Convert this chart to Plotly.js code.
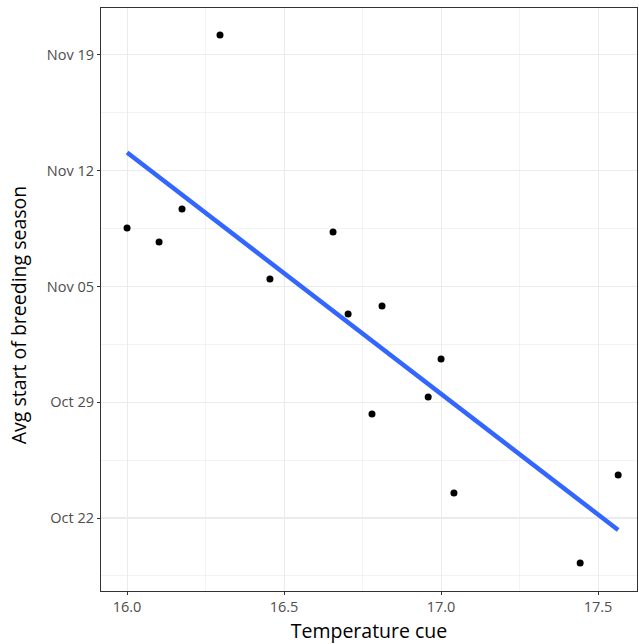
<!DOCTYPE html>
<html><head><meta charset="utf-8">
<script src="https://cdn.plot.ly/plotly-3.0.1.min.js"></script>
<style>html,body{margin:0;padding:0;background:#fff}</style>
</head><body>
<div id="chart" style="width:639px;height:644px"></div>
<script>
// Temperature cue (x) and average start of breeding season, in days after Oct 22 (y)
const tempCue = [16.000, 16.102, 16.175, 16.296, 16.455, 16.656, 16.704, 16.812, 16.780, 17.000, 16.959, 17.041, 17.443, 17.564];
const startDaysAfterOct22 = [17.53, 16.69, 18.68, 29.20, 14.45, 17.29, 12.33, 12.82, 6.29, 9.61, 7.32, 1.51, -2.72, 2.60];
const yTickDays = [0, 7, 14, 21, 28];
const xTickVals = [16.0, 16.5, 17.0, 17.5];
const xTickText = ['16.0', '16.5', '17.0', '17.5'];

const DAY = 864e5;
const base = Date.UTC(2019, 9, 22);
const toMs = d => base + d * DAY;

const yDates = startDaysAfterOct22.map(toMs);

// least squares fit
const n = tempCue.length;
const mx = tempCue.reduce((a, b) => a + b, 0) / n;
const my = startDaysAfterOct22.reduce((a, b) => a + b, 0) / n;
let sxy = 0, sxx = 0;
for (let i = 0; i < n; i++) { sxy += (tempCue[i] - mx) * (startDaysAfterOct22[i] - my); sxx += (tempCue[i] - mx) ** 2; }
const slope = sxy / sxx, icpt = my - slope * mx;
const xmin = Math.min(...tempCue), xmax = Math.max(...tempCue);
const fitX = [xmin, xmax];
const fitY = fitX.map(x => toMs(icpt + slope * x));

const font = '"Open Sans", Lato, sans-serif';
const traces = [
  {x: fitX, y: fitY, type: 'scatter', mode: 'lines', line: {color: '#3366FF', width: 4.5}, hoverinfo: 'skip'},
  {x: tempCue, y: yDates, type: 'scatter', mode: 'markers', marker: {color: '#000', size: 7}}
];
const layout = {
  width: 639, height: 644,
  margin: {l: 101, r: 2, t: 8, b: 53},
  paper_bgcolor: '#fff', plot_bgcolor: '#fff',
  showlegend: false,
  font: {family: font, color: '#4D4D4D', size: 14},
  xaxis: {
    range: [15.917, 17.624],
    tickvals: xTickVals, ticktext: xTickText,
    showgrid: true, gridcolor: '#EBEBEB', gridwidth: 1.1,
    minor: {tickvals: [16.25, 16.75, 17.25], showgrid: true, gridcolor: '#EBEBEB', gridwidth: 0.6, ticks: ''},
    zeroline: false,
    showline: true, mirror: true, linecolor: '#333', linewidth: 1,
    ticks: 'outside', ticklen: 3, tickcolor: '#333', tickwidth: 1,
    tickfont: {family: font, size: 14.5, color: '#4D4D4D'},
    title: {text: 'Temperature cue', font: {family: font, size: 19.5, color: '#000'}, standoff: 9}
  },
  yaxis: {
    type: 'date',
    range: [toMs(-4.41), toMs(30.83)],
    tickvals: yTickDays.map(toMs), tickformat: '%b %d',
    showgrid: true, gridcolor: '#EBEBEB', gridwidth: 1.1,
    minor: {tickvals: [-3.5, 3.5, 10.5, 17.5, 24.5].map(toMs), showgrid: true, gridcolor: '#EBEBEB', gridwidth: 0.6, ticks: ''},
    zeroline: false,
    showline: true, mirror: true, linecolor: '#333', linewidth: 1,
    ticks: 'outside', ticklen: 3, tickcolor: '#333', tickwidth: 1,
    tickfont: {family: font, size: 14.5, color: '#4D4D4D'}
  },
  annotations: [{
    text: 'Avg start of breeding season', textangle: -90,
    xref: 'paper', yref: 'paper', x: -101/536 + 18/536, y: 0.473,
    xanchor: 'center', yanchor: 'middle', showarrow: false,
    font: {family: font, size: 19.5, color: '#000'}
  }]
};
Plotly.newPlot('chart', traces, layout, {displayModeBar: false, staticPlot: true});
</script>
</body></html>
